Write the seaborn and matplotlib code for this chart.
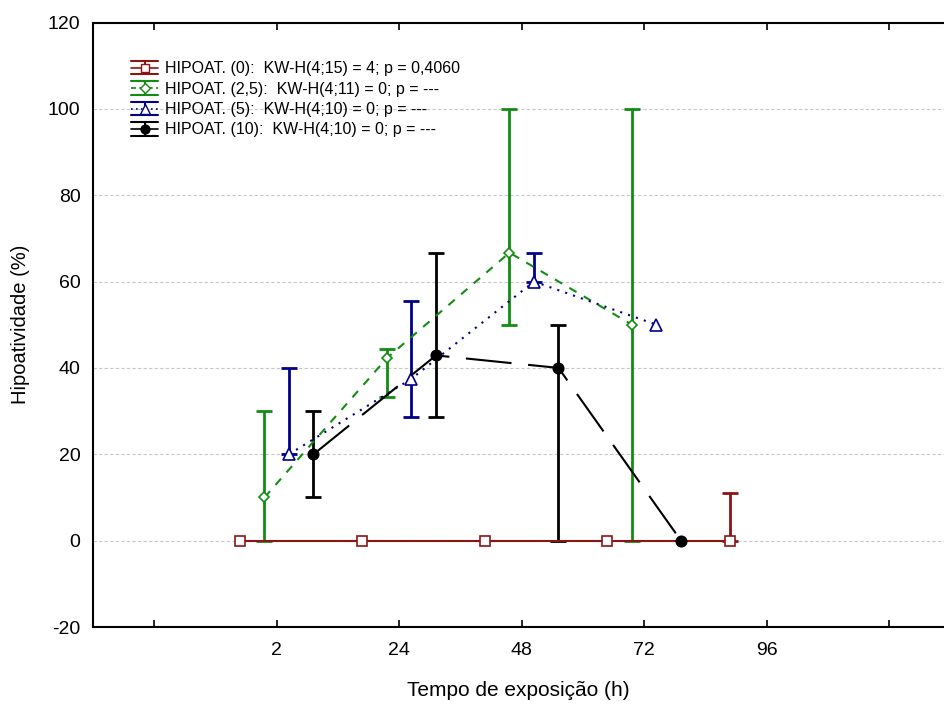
import numpy as np
import pandas as pd
import matplotlib
matplotlib.use('Agg')
import matplotlib.pyplot as plt
import seaborn as sns
from matplotlib.lines import Line2D
from matplotlib.legend_handler import HandlerBase

# Configuration
sns.set_theme(style="ticks")
plt.rcParams['font.family'] = ['Liberation Sans', 'DejaVu Sans']
plt.rcParams['axes.unicode_minus'] = False
plt.rcParams['text.color'] = 'black'
plt.rcParams['axes.labelcolor'] = 'black'
plt.rcParams['xtick.color'] = 'black'
plt.rcParams['ytick.color'] = 'black'

# Données (médiane, min, max) par temps d'exposition
tempos = ['2', '24', '48', '72', '96']

h0_med = [0, 0, 0, 0, 0]
h0_low = [np.nan, np.nan, np.nan, np.nan, 0]
h0_up = [np.nan, np.nan, np.nan, np.nan, 11.1]

h25_med = [10, 42.3, 66.7, 50]
h25_low = [0, 33.3, 50, 0]
h25_up = [30, 44.4, 100, 100]

h5_med = [20, 37.5, 60, 50]
h5_low = [20, 28.6, 60, np.nan]
h5_up = [40, 55.6, 66.7, np.nan]

h10_med = [20, 42.9, 40, 0]
h10_low = [10, 28.6, 0, np.nan]
h10_up = [30, 66.7, 50, np.nan]

labels = ['HIPOAT. (0):  KW-H(4;15) = 4; p = 0,4060',
          'HIPOAT. (2,5):  KW-H(4;11) = 0; p = ---',
          'HIPOAT. (5):  KW-H(4;10) = 0; p = ---',
          'HIPOAT. (10):  KW-H(4;10) = 0; p = ---']

series = [
    (h0_med, h0_low, h0_up, '#8c1414', 's', 'white', '-', -0.3),
    (h25_med, h25_low, h25_up, '#128c12', 'D', 'white', (0, (4, 4)), -0.1),
    (h5_med, h5_low, h5_up, '#00008b', '^', 'white', (0, (1, 3)), 0.1),
    (h10_med, h10_low, h10_up, '#000000', 'o', '#000000', (0, (22, 8)), 0.3),
]
msizes = {'s': 6.5, 'D': 5.5, '^': 8, 'o': 7.5}
styles_leg = {'s': '-', 'D': (0, (3, 2)), '^': (0, (1, 2)), 'o': '-'}


class HandlerBarre(HandlerBase):
    # symbole de légende : barres haut/bas, trait vertical, ligne et marqueur
    def create_artists(self, legend, orig, xd, yd, width, height, fontsize, trans):
        col = orig.get_color()
        mk = orig.get_marker()
        cy = height / 2 - yd
        h = height * 0.5
        arts = []
        for yy in (cy - h, cy + h):
            arts.append(Line2D([-xd, -xd + width], [yy, yy], color=col, lw=1.5))
        arts.append(Line2D([-xd + width / 2] * 2, [cy - h, cy + h], color=col, lw=1.5))
        arts.append(Line2D([-xd, -xd + width], [cy, cy], color=col, lw=1.2,
                           linestyle=styles_leg[mk]))
        arts.append(Line2D([-xd + width / 2], [cy], color=col, marker=mk,
                           markersize=orig.get_markersize(),
                           markerfacecolor=orig.get_markerfacecolor(),
                           markeredgecolor=col, linestyle='none'))
        for a in arts:
            a.set_transform(trans)
        return arts


fig = plt.figure(figsize=(9.44, 7.05), dpi=100)
ax = fig.add_axes([93 / 944, 78 / 705, 851 / 944, 604.5 / 705])

handles = []
for (med, low, up, col, mk, mfc, ls, off), lab in zip(series, labels):
    med = np.array(med, dtype=float)
    low = np.array(low, dtype=float)
    up = np.array(up, dtype=float)
    x = np.arange(1, len(med) + 1) + off
    df = pd.DataFrame({'x': x, 'y': med})
    sns.lineplot(data=df, x='x', y='y', ax=ax, color=col, linestyle=ls, lw=1.5,
                 marker=mk, markersize=msizes[mk], markerfacecolor=mfc,
                 markeredgecolor=col, markeredgewidth=1.2, zorder=3)
    ok = ~np.isnan(low)
    ax.errorbar(x[ok], med[ok], yerr=[med[ok] - low[ok], up[ok] - med[ok]],
                fmt='none', ecolor=col, elinewidth=2, capsize=5.5, capthick=2, zorder=2)
    handles.append(Line2D([], [], color=col, marker=mk,
                          markersize=msizes[mk] * 0.85, markerfacecolor=mfc))

# Axes
ax.set_xlim(-0.5, 6.447)
ax.set_ylim(-20, 120)
ax.set_xticks(range(7))
ax.set_xticklabels([''] + tempos + [''])
ax.set_yticks(range(-20, 121, 20))
ax.yaxis.grid(True, linestyle=(0, (3, 2)), color='#c8c8c8', lw=0.8)
ax.xaxis.grid(False)
ax.tick_params(axis='x', direction='in', top=True, length=5, width=1.2, labelsize=14, pad=11)
ax.tick_params(axis='y', direction='in', length=0, labelsize=14, pad=9)
for s in ['left', 'bottom', 'top']:
    ax.spines[s].set_linewidth(1.5)
    ax.spines[s].set_color('black')
ax.spines['right'].set_visible(False)
ax.set_xlabel('Tempo de exposição (h)', fontsize=15, labelpad=16)
ax.set_ylabel('Hipoatividade (%)', fontsize=14.5, labelpad=13)

ax.legend(handles, labels, handler_map={Line2D: HandlerBarre()},
          loc='upper left', bbox_to_anchor=(0.028, 0.96), frameon=False,
          fontsize=11.5, handlelength=1.7, handleheight=0.9, handletextpad=0.4,
          labelspacing=0.33)

plt.savefig('out.png', dpi=100)
plt.close()
